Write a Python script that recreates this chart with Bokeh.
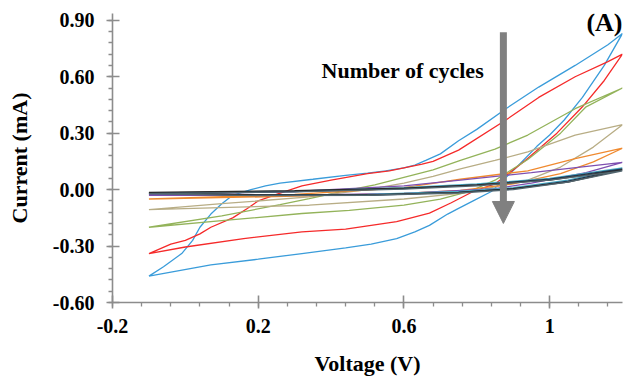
from bokeh.plotting import figure
from bokeh.models import FixedTicker, Label, Arrow, NormalHead, Range1d, NumeralTickFormatter
from bokeh.embed import file_html
from bokeh.resources import INLINE

# ---------------- data ----------------
# each cycle: closed loop, forward branch then reverse branch
c1_v = [-0.10, -0.06, -0.01, 0.02, 0.04, 0.07, 0.10, 0.13, 0.18, 0.22, 0.26, 0.35, 0.44, 0.50, 0.55, 0.60, 0.63, 0.66, 0.70, 0.75, 0.80, 0.88, 0.97, 1.07, 1.16, 1.20,
        1.15, 1.09, 1.04, 1.00, 0.965, 0.91, 0.84, 0.79, 0.75, 0.72, 0.67, 0.63, 0.58, 0.51, 0.44, 0.32, 0.20, 0.07, -0.10]
c1_i = [-0.46, -0.41, -0.34, -0.27, -0.20, -0.13, -0.075, -0.03, 0.00, 0.02, 0.035, 0.055, 0.076, 0.088, 0.10, 0.115, 0.13, 0.155, 0.19, 0.26, 0.32, 0.43, 0.545, 0.66, 0.77, 0.83,
        0.66, 0.49, 0.37, 0.29, 0.23, 0.12, -0.01, -0.06, -0.10, -0.13, -0.19, -0.225, -0.26, -0.29, -0.31, -0.34, -0.37, -0.40, -0.46]

c2_v = [-0.10, -0.04, 0.00, 0.04, 0.07, 0.13, 0.17, 0.20, 0.25, 0.32, 0.40, 0.50, 0.56, 0.61, 0.65, 0.68, 0.75, 0.88, 0.97, 1.07, 1.16, 1.20,
        1.15, 1.09, 1.02, 0.93, 0.85, 0.79, 0.73, 0.67, 0.62, 0.58, 0.51, 0.44, 0.32, 0.16, 0.00, -0.10]
c2_i = [-0.34, -0.29, -0.27, -0.235, -0.20, -0.15, -0.10, -0.06, -0.025, 0.02, 0.05, 0.085, 0.10, 0.12, 0.135, 0.15, 0.21, 0.37, 0.49, 0.60, 0.68, 0.72,
        0.58, 0.44, 0.30, 0.15, 0.03, -0.01, -0.07, -0.125, -0.15, -0.17, -0.19, -0.21, -0.225, -0.26, -0.305, -0.34]

c3_v = [-0.10, 0.10, 0.26, 0.34, 0.43, 0.52, 0.60, 0.68, 0.755, 0.85, 0.94, 1.07, 1.20,
        1.10, 1.03, 0.94, 0.85, 0.78, 0.70, 0.60, 0.45, 0.32, 0.10, -0.10]
c3_i = [-0.20, -0.14, -0.08, -0.048, -0.01, 0.025, 0.065, 0.105, 0.155, 0.215, 0.29, 0.43, 0.54,
        0.44, 0.30, 0.16, 0.05, -0.01, -0.05, -0.083, -0.11, -0.127, -0.165, -0.20]

c4_v = [-0.10, 0.10, 0.34, 0.50, 0.60, 0.68, 0.755, 0.85, 0.94, 1.07, 1.20,
        1.12, 1.03, 0.94, 0.85, 0.755, 0.60, 0.34, -0.10]
c4_i = [-0.106, -0.075, -0.039, 0.0, 0.035, 0.07, 0.11, 0.155, 0.20, 0.29, 0.345,
        0.226, 0.12, 0.05, 0.014, -0.02, -0.05, -0.083, -0.106]

c5_v = [-0.10, 0.30, 0.60, 0.755, 0.94, 1.07, 1.20,
        1.12, 1.03, 0.90, 0.755, 0.60, 0.30, -0.10]
c5_i = [-0.05, -0.025, 0.01, 0.055, 0.10, 0.165, 0.22,
        0.147, 0.085, 0.03, -0.004, -0.02, -0.035, -0.05]

c6_v = [-0.10, 0.30, 0.60, 0.755, 0.95, 1.20,
        1.10, 0.95, 0.85, 0.60, 0.30, -0.10]
c6_i = [-0.025, -0.01, 0.02, 0.05, 0.09, 0.145,
        0.09, 0.035, 0.005, -0.02, -0.03, -0.03]

c7_v = [-0.10, 0.30, 0.60, 0.80, 1.00, 1.20, 1.05, 0.90, 0.75, 0.50, 0.20, -0.10]
c7_i = [-0.020, -0.008, 0.010, 0.030, 0.060, 0.115, 0.050, 0.010, -0.010, -0.025, -0.030, -0.020]

c8_v = [-0.10, 0.30, 0.60, 0.80, 1.00, 1.20, 1.05, 0.90, 0.75, 0.50, 0.20, -0.10]
c8_i = [-0.018, -0.010, 0.005, 0.025, 0.055, 0.110, 0.045, 0.005, -0.015, -0.030, -0.030, -0.018]

c9_v = [-0.10, 0.30, 0.60, 0.80, 1.00, 1.20, 1.05, 0.90, 0.75, 0.50, 0.20, -0.10]
c9_i = [-0.015, -0.005, 0.008, 0.025, 0.050, 0.105, 0.040, 0.005, -0.015, -0.028, -0.028, -0.015]

c10_v = [-0.10, 0.30, 0.60, 0.80, 1.00, 1.20, 1.05, 0.90, 0.75, 0.50, 0.20, -0.10]
c10_i = [-0.022, -0.012, 0.003, 0.020, 0.050, 0.100, 0.040, 0.000, -0.018, -0.030, -0.032, -0.022]

cycles = [(c1_v, c1_i), (c2_v, c2_i), (c3_v, c3_i), (c4_v, c4_i), (c5_v, c5_i),
          (c6_v, c6_i), (c7_v, c7_i), (c8_v, c8_i), (c9_v, c9_i), (c10_v, c10_i)]
colors = ["#3A9CDA", "#F52A2A", "#93B35A", "#B8AD85", "#F08A30",
          "#7E4FB0", "#4BACC6", "#1F3B57", "#2B2B2B", "#52666F"]

x_ticks = [-0.2, 0.2, 0.6, 1.0]
y_ticks = [-0.6, -0.3, 0.0, 0.3, 0.6, 0.9]

# ---------------- figure ----------------
p = figure(width=623, height=378, output_backend="svg", toolbar_location=None,
           x_range=Range1d(-0.2, 1.2), y_range=Range1d(-0.6, 0.936),
           min_border_left=112, min_border_right=1, min_border_top=13, min_border_bottom=76)
p.outline_line_color = None
p.xgrid.grid_line_color = None
p.ygrid.grid_line_color = None
p.background_fill_color = "white"

for (v, i), c in zip(cycles, colors):
    p.line(v, i, line_color=c, line_width=1.3)

axis_col = "#8C8C8C"
FONT = "Liberation Serif"
for ax in (p.xaxis[0], p.yaxis[0]):
    ax.axis_line_color = axis_col
    ax.axis_line_width = 1.6
    ax.major_tick_line_color = axis_col
    ax.major_tick_line_width = 1.6
    ax.minor_tick_line_color = axis_col
    ax.minor_tick_line_width = 1.3
    ax.major_tick_in = 7
    ax.major_tick_out = 6
    ax.minor_tick_in = 0
    ax.minor_tick_out = 4
    ax.major_label_text_font = FONT
    ax.major_label_text_font_style = "bold"
    ax.major_label_text_font_size = "20px"
    ax.major_label_text_color = "black"
    ax.axis_label_text_font = FONT
    ax.axis_label_text_font_style = "bold"
    ax.axis_label_text_font_size = "22px"
    ax.axis_label_text_color = "black"

p.xaxis[0].ticker = FixedTicker(ticks=x_ticks,
                                minor_ticks=[round(-0.2 + 0.08 * k, 2) for k in range(18)])
p.xaxis[0].formatter = NumeralTickFormatter(format="0.[0]")
p.xaxis[0].major_label_standoff = 10
p.xaxis[0].axis_label = "Voltage (V)"
p.xaxis[0].axis_label_standoff = 15

p.yaxis[0].ticker = FixedTicker(ticks=y_ticks,
                                minor_ticks=[round(-0.6 + 0.06 * k, 2) for k in range(26)])
p.yaxis[0].formatter = NumeralTickFormatter(format="0.00")
p.yaxis[0].major_label_standoff = 12
p.yaxis[0].axis_label = "Current (mA)"
p.yaxis[0].axis_label_standoff = 18

# arrow "Number of cycles"
p.add_layout(Arrow(end=NormalHead(size=22, fill_color="#808080", line_color="#808080"),
                   x_start=0.873, y_start=0.837, x_end=0.873, y_end=-0.18,
                   line_color="#808080", line_width=7))
p.add_layout(Label(x=0.597, y=0.634, text="Number of cycles", text_font=FONT,
                   text_font_style="bold", text_font_size="22px",
                   text_align="center", text_baseline="middle", text_color="black"))
p.add_layout(Label(x=1.2, y=0.888, text="(A)", text_font=FONT,
                   text_font_style="bold", text_font_size="26px",
                   text_align="right", text_baseline="middle", text_color="black"))

open("out.html", "w").write(file_html(p, INLINE))
